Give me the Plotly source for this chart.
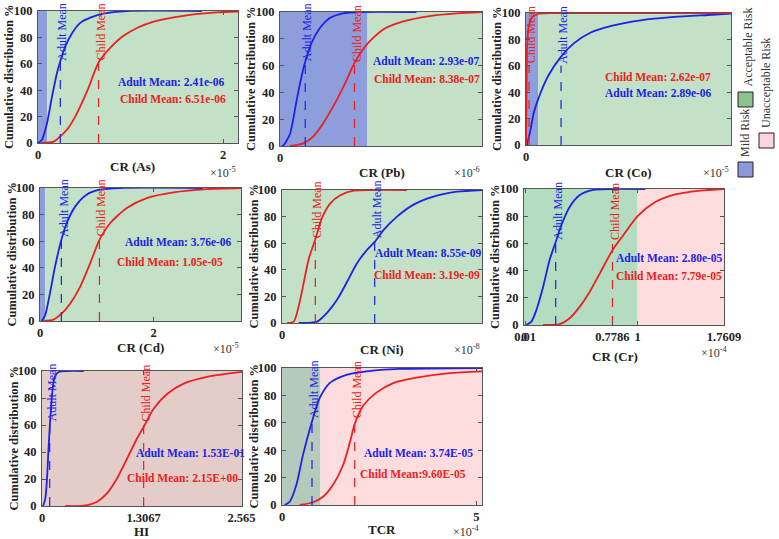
import plotly.graph_objects as go

W, H = 779, 539
FONT = "Liberation Serif, Times New Roman, serif"
BLUE = "#1c22e8"
RED = "#ec2020"
GREEN = "#c2e1c6"
GREEN2 = "#b3dcc0"
MILD = "#8e9edc"
PINK = "#fcdcdc"
HIBG = "#e4cdc9"
TCRG = "#b5c9bd"

# ---------------- data (x in displayed axis units) ----------------
as_adult_x = [0, 0.043, 0.097, 0.151, 0.205, 0.241, 0.294, 0.366, 0.456, 0.564, 0.707, 0.959, 1.77]
as_adult_y = [0, 2.5, 15, 35, 53, 62, 73, 83, 91, 95, 98, 100, 100]
as_child_x = [0.03, 0.169, 0.241, 0.312, 0.402, 0.535, 0.654, 0.78, 0.92, 1.08, 1.25, 1.45, 1.68, 1.93, 2.16]
as_child_y = [0, 1, 5, 10, 20, 40, 61, 72, 81, 87.5, 92, 95, 97.5, 99, 99.6]

pb_adult_x = [0.02, 0.04, 0.114, 0.19, 0.247, 0.289, 0.361, 0.456, 0.57, 0.722, 0.913, 1.56]
pb_adult_y = [0, 0.5, 9, 34, 52, 63, 77, 88, 95.5, 99, 100, 100]
pb_child_x = [0.114, 0.266, 0.38, 0.494, 0.646, 0.76, 0.852, 0.989, 1.18, 1.41, 1.71, 2.02, 2.31]
pb_child_y = [0, 2, 7, 17, 34, 49, 62, 75.5, 87, 93, 97, 99, 100]

co_child_x = [0, 0.003, 0.008, 0.017, 0.036, 0.063, 0.105, 0.2, 1.69]
co_child_y = [0, 34, 72, 87, 95, 98, 99.5, 100, 100]
co_adult_x = [0.008, 0.036, 0.063, 0.118, 0.187, 0.289, 0.394, 0.53, 0.697, 0.945, 1.22, 1.5, 1.69]
co_adult_y = [0, 11, 24, 39, 53, 67, 77, 85, 90, 94.4, 97, 98.5, 99.5]

cd_adult_x = [0.03, 0.088, 0.176, 0.265, 0.376, 0.47, 0.618, 0.82, 1.06, 1.41, 2.87]
cd_adult_y = [0, 4, 21, 41, 61, 73.5, 86, 95, 98.7, 100, 100]
cd_child_x = [0.06, 0.235, 0.38, 0.53, 0.706, 0.88, 1.047, 1.235, 1.53, 1.88, 2.35, 2.94, 3.54]
cd_child_y = [0, 1, 5.5, 13, 25.7, 43, 61, 73.5, 85, 92.4, 96.7, 99.2, 100]

ni_child_x = [0.047, 0.11, 0.156, 0.203, 0.25, 0.3125, 0.375, 0.453, 0.547, 0.672, 0.83, 1.17]
ni_child_y = [0, 1, 12.5, 30, 48, 63, 79, 90, 96, 99.5, 100, 100]
ni_adult_x = [0.156, 0.33, 0.42, 0.516, 0.61, 0.703, 0.797, 0.869, 0.953, 1.078, 1.234, 1.42, 1.64, 1.875]
ni_adult_y = [0, 1, 7.5, 17.5, 31, 45, 55, 61, 70, 80, 89, 95, 98.7, 100]

cr_adult_x = [0.02, 0.065, 0.109, 0.168, 0.226, 0.279, 0.329, 0.403, 0.491, 0.609, 0.756, 1.068]
cr_adult_y = [0, 2.5, 11, 28, 48, 61, 73.5, 87, 95.6, 99.3, 100, 100]
cr_child_x = [0.168, 0.315, 0.403, 0.491, 0.579, 0.668, 0.779, 0.874, 1.0, 1.138, 1.315, 1.55, 1.7609]
cr_child_y = [0, 0.7, 5, 13.5, 24.5, 38, 55, 66, 80, 89.5, 95.6, 98.8, 100]

hi_adult_x = [0.013, 0.043, 0.064, 0.086, 0.107, 0.133, 0.163, 0.214, 0.321, 0.536]
hi_adult_y = [0, 5.7, 20, 45, 65, 84.5, 95.6, 99.3, 100, 100]
hi_child_x = [0.3, 0.536, 0.707, 0.835, 0.964, 1.093, 1.221, 1.307, 1.435, 1.607, 1.821, 2.12, 2.571]
hi_child_y = [0, 0.2, 3.2, 9.4, 20.4, 35, 50, 58.6, 72, 83, 90.6, 95.6, 99.3]

tcr_adult_x = [0.069, 0.197, 0.369, 0.54, 0.772, 0.969, 1.226, 1.655, 2.17, 3.03, 5.146]
tcr_adult_y = [0, 2.4, 14.6, 36.6, 61, 78, 89, 95, 97.6, 99.3, 100]
tcr_child_x = [0.455, 0.8, 1.055, 1.31, 1.57, 1.74, 1.87, 2.08, 2.43, 2.86, 3.46, 4.31, 5.146]
tcr_child_y = [0, 2, 6, 14.6, 29, 45, 59, 72, 82, 89, 93, 96.3, 97.6]

# mean marker lines: [adult_x, adult_top, child_x, child_top]
mean_lines = {
    "As": [0.241, 61, 0.654, 61],
    "Pb": [0.289, 62, 0.852, 61],
    "Co": [0.289, 60, 0.025, 60],
    "Cd": [0.376, 62, 1.047, 62],
    "Ni": [0.869, 62, 0.3125, 62],
    "Cr": [0.279, 61, 0.779, 61],
    "HI": [0.099, 61, 1.3067, 61],
    "TCR": [0.772, 62, 1.87, 62],
}
adult_labels = ["Adult Mean: 2.41e-06", "Adult Mean: 2.93e-07", "Adult Mean: 2.89e-06",
                "Adult Mean: 3.76e-06", "Adult Mean: 8.55e-09", "Adult Mean: 2.80e-05",
                "Adult Mean: 1.53E-01", "Adult Mean: 3.74E-05"]
child_labels = ["Child Mean: 6.51e-06", "Child Mean: 8.38e-07", "Child Mean: 2.62e-07",
                "Child Mean: 1.05e-05", "Child Mean: 3.19e-09", "Child Mean: 7.79e-05",
                "Child Mean: 2.15E+00", "Child Mean:9.60E-05"]
x_titles = ["CR (As)", "CR (Pb)", "CR (Co)", "CR (Cd)", "CR (Ni)", "CR (Cr)", "HI", "TCR"]
y_ticks = [0, 20, 40, 60, 80, 100]

# ---------------- layout specs ----------------
panels = [
    dict(key="As", dom=(38, 238, 11, 143), xr=[0, 2.16], tv=[0, 2], tt=["0", "2"], exp="-5",
         data=(as_adult_x, as_adult_y, as_child_x, as_child_y),
         bands=[(0, 0.1, MILD), (0.1, 2.16, GREEN)],
         ta=(171, 82), tc=(173, 99), xtp=(132, 166), exp_p=(238, 173)),
    dict(key="Pb", dom=(280, 482, 12, 146), xr=[0, 2.31], tv=[0], tt=["0"], exp="-6",
         data=(pb_adult_x, pb_adult_y, pb_child_x, pb_child_y),
         bands=[(0, 1.0, MILD), (1.0, 2.31, GREEN)],
         ta=(427, 61), tc=(427, 79), xtp=(382, 172), exp_p=(482, 173)),
    dict(key="Co", dom=(526, 731, 13, 145), xr=[0, 1.69], tv=[0], tt=["0"], exp="-5",
         data=(co_adult_x, co_adult_y, co_child_x, co_child_y),
         bands=[(0, 0.1, MILD), (0.1, 1.69, GREEN)],
         ta=(658, 93), tc=(658, 77), xtp=(628, 172), exp_p=(731, 173)),
    dict(key="Cd", dom=(40, 241, 188, 321), xr=[0, 3.54], tv=[0, 2], tt=["0", "2"], exp="-5",
         data=(cd_adult_x, cd_adult_y, cd_child_x, cd_child_y),
         bands=[(0, 0.09, MILD), (0.09, 3.54, GREEN)],
         ta=(178, 242), tc=(170, 262), xtp=(140, 347), exp_p=(241, 348)),
    dict(key="Ni", dom=(282, 482, 190, 323), xr=[0, 1.875], tv=[0], tt=["0"], exp="-8",
         data=(ni_adult_x, ni_adult_y, ni_child_x, ni_child_y),
         bands=[(0, 1.875, GREEN)],
         ta=(428, 253), tc=(427, 275), xtp=(382, 349), exp_p=(482, 349)),
    dict(key="Cr", dom=(524, 724, 189, 325), xr=[0, 1.7609], tv=[0, 0.01, 0.7786, 1, 1.7609],
         tt=["0", "0.01", "0.7786", "1", "1.7609"], exp="-4",
         data=(cr_adult_x, cr_adult_y, cr_child_x, cr_child_y),
         bands=[(0, 1.0, GREEN2), (1.0, 1.7609, PINK)],
         ta=(669, 258), tc=(669, 276), xtp=(615, 356), exp_p=(730, 352)),
    dict(key="HI", dom=(42, 242, 371, 506), xr=[0, 2.571], tv=[0, 1.3067, 2.565],
         tt=["0", "1.3067", "2.565"], exp=None,
         data=(hi_adult_x, hi_adult_y, hi_child_x, hi_child_y),
         bands=[(0, 2.571, HIBG)],
         ta=(190, 453), tc=(182, 478), xtp=(141, 531), exp_p=None),
    dict(key="TCR", dom=(282, 482, 368, 505), xr=[0, 5.146], tv=[0, 5], tt=["0", "5"], exp="-4",
         data=(tcr_adult_x, tcr_adult_y, tcr_child_x, tcr_child_y),
         bands=[(0, 0.99, TCRG), (0.99, 5.146, PINK)],
         ta=(418, 453), tc=(413, 474), xtp=(382, 529), exp_p=(482, 531)),
]


def fx(px):
    return px / W


def fy(py):
    return 1 - py / H


fig = go.Figure()
shapes = []
annotations = []
layout = dict(width=W, height=H, margin=dict(l=0, r=0, t=0, b=0, pad=0, autoexpand=False),
              paper_bgcolor="white", plot_bgcolor="white", showlegend=False)

axis_common = dict(ticks="inside", ticklen=4, tickwidth=1, tickcolor="#555",
                   showline=True, linecolor="#555", linewidth=1, mirror="ticks",
                   showgrid=False, zeroline=False, fixedrange=True, tickangle=0,
                   automargin=False,
                   tickfont=dict(family=FONT, size=12.5, color="#222", weight="bold"))

for i, p in enumerate(panels):
    n = i + 1
    sfx = "" if n == 1 else str(n)
    xref, yref = "x" + sfx, "y" + sfx
    l, r, t, b = p["dom"]
    layout["xaxis" + sfx] = dict(axis_common, domain=[fx(l), fx(r)], range=p["xr"], anchor=yref,
                                 tickmode="array", tickvals=p["tv"], ticktext=p["tt"])
    layout["yaxis" + sfx] = dict(axis_common, domain=[fy(b), fy(t)], range=[0, 100], anchor=xref,
                                 tickmode="array", tickvals=y_ticks, ticklabelstandoff=2)
    for x0, x1, c in p["bands"]:
        shapes.append(dict(type="rect", xref=xref, yref=yref, x0=x0, x1=x1, y0=0, y1=100,
                           fillcolor=c, line=dict(width=0), layer="below"))
    ax, ay, cx, cy = p["data"]
    shape_c = "linear" if p["key"] == "Co" else "spline"
    fig.add_trace(go.Scatter(x=ax, y=ay, mode="lines", xaxis=xref, yaxis=yref,
                             line=dict(color=BLUE, width=1.8, shape="spline", smoothing=0.7)))
    fig.add_trace(go.Scatter(x=cx, y=cy, mode="lines", xaxis=xref, yaxis=yref,
                             line=dict(color=RED, width=1.8, shape=shape_c, smoothing=0.7)))
    m = mean_lines[p["key"]]
    for mx, mtop, col, lab in [(m[0], m[1], BLUE, "Adult Mean"), (m[2], m[3], RED, "Child Mean")]:
        fig.add_trace(go.Scatter(x=[mx, mx], y=[0, mtop], mode="lines", xaxis=xref, yaxis=yref,
                                 line=dict(color=col, width=1.2, dash="dash")))
        annotations.append(dict(x=mx, y=mtop, xref=xref, yref=yref, text=lab, showarrow=False,
                                textangle=-90, xanchor="center", yanchor="bottom", xshift=2,
                                font=dict(family=FONT, size=12, color=col)))
    # mean texts
    annotations.append(dict(x=fx(p["ta"][0]), y=fy(p["ta"][1]), xref="paper", yref="paper",
                            text=adult_labels[i], showarrow=False, xanchor="center", yanchor="middle",
                            font=dict(family=FONT, size=11.5, color=BLUE, weight="bold")))
    annotations.append(dict(x=fx(p["tc"][0]), y=fy(p["tc"][1]), xref="paper", yref="paper",
                            text=child_labels[i], showarrow=False, xanchor="center", yanchor="middle",
                            font=dict(family=FONT, size=11.5, color=RED, weight="bold")))
    # axis titles
    annotations.append(dict(x=fx(p["xtp"][0]), y=fy(p["xtp"][1]), xref="paper", yref="paper",
                            text=x_titles[i], showarrow=False, xanchor="center", yanchor="middle",
                            font=dict(family=FONT, size=13, color="#222", weight="bold")))
    annotations.append(dict(x=fx(l - 29), y=fy((t + b) / 2), xref="paper", yref="paper",
                            text="Cumulative distribution %", showarrow=False, textangle=-90,
                            xanchor="center", yanchor="middle",
                            font=dict(family=FONT, size=12.5, color="#222", weight="bold")))
    if p["exp"]:
        annotations.append(dict(x=fx(p["exp_p"][0]), y=fy(p["exp_p"][1]), xref="paper", yref="paper",
                                text="\u00d710<sup>" + p["exp"] + "</sup>", showarrow=False,
                                xanchor="right", yanchor="middle",
                                font=dict(family=FONT, size=12, color="#333")))

# legend (risk categories)
legend_items = [("Acceptable Risk", "#8cc48c", 738, 92, 747),
                ("Unacceptable Risk", "#fcd4dc", 759, 133, 766),
                ("Mild Risk", "#8c98dc", 738, 162, 745)]
for lab, col, sx, sy, tx in legend_items:
    shapes.append(dict(type="rect", xref="paper", yref="paper", x0=fx(sx), x1=fx(sx + 15),
                       y0=fy(sy + 15), y1=fy(sy), fillcolor=col, line=dict(color="#222", width=1)))
    annotations.append(dict(x=fx(tx), y=fy(sy - 3), xref="paper", yref="paper", text=lab,
                            showarrow=False, textangle=-90, xanchor="center", yanchor="bottom",
                            font=dict(family=FONT, size=12, color="#333")))

layout["shapes"] = shapes
layout["annotations"] = annotations
fig.update_layout(**layout)
fig.write_html("out.html", config={"displayModeBar": False})
